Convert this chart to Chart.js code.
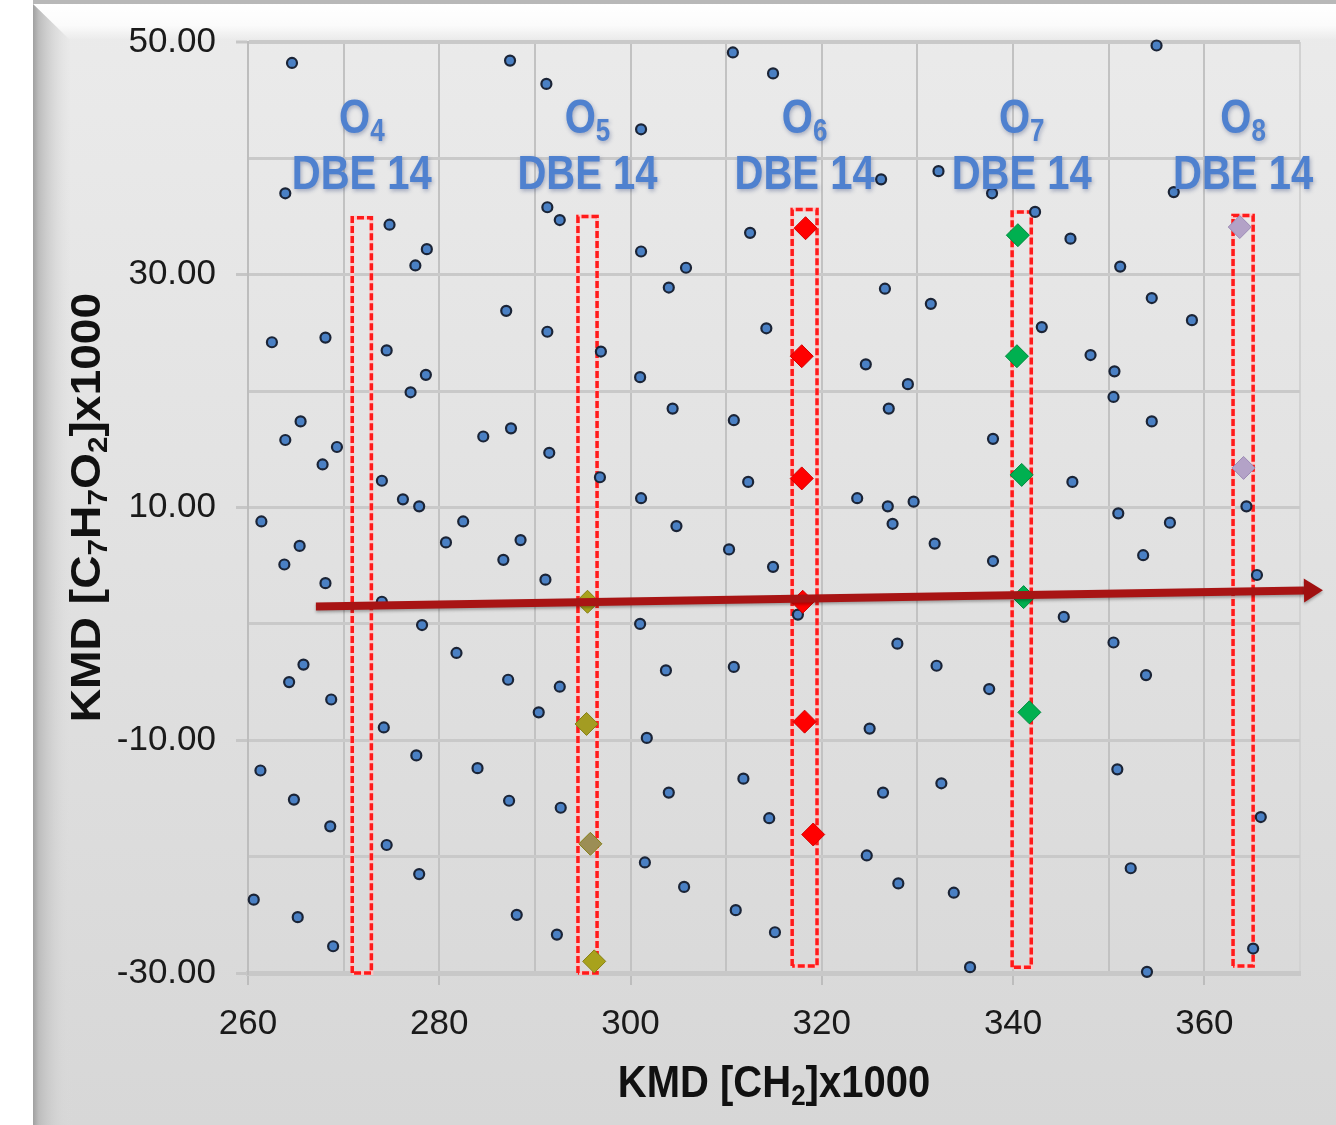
<!DOCTYPE html>
<html>
<head>
<meta charset="utf-8">
<script src="https://cdn.jsdelivr.net/npm/chart.js@4.4.1/dist/chart.umd.min.js"></script>
<style>
html, body { margin: 0; padding: 0; background: #fff; }
#wrap { width: 1336px; height: 1125px; }
</style>
</head>
<body>
<div id="wrap"><canvas id="kmdChart" width="1336" height="1125"></canvas></div>
<script>
// all compounds (blue dots)
var kmdX = [264.6, 263.9, 274.8, 278.7, 277.5, 262.5, 268.1, 274.5, 287.4, 291.2,
    310.7, 314.9, 301.1, 326.2, 291.3, 292.6, 312.5, 301.1, 305.8, 304.0,
    326.6, 287.0, 291.3, 314.2, 296.9, 355.0, 332.2, 337.8, 356.8, 342.3,
    346.0, 351.2, 331.4, 354.5, 358.7, 343.0, 348.1, 278.6, 277.0, 265.5,
    263.9, 269.3, 267.8, 274.0, 276.2, 277.9, 261.4, 280.7, 265.4, 263.8,
    268.1, 274.0, 278.2, 265.8, 264.3, 268.7, 301.0, 304.4, 310.8, 324.6,
    327.0, 284.6, 287.5, 291.5, 296.8, 301.1, 312.3, 323.7, 326.9, 327.4,
    282.5, 288.5, 286.7, 291.1, 304.8, 310.3, 314.9, 317.5, 301.0, 281.8,
    327.9, 287.2, 292.6, 303.7, 310.8, 350.6, 350.5, 354.5, 329.0, 337.9,
    346.2, 329.6, 351.0, 356.4, 364.4, 331.8, 337.9, 353.6, 365.5, 345.3,
    350.5, 332.0, 353.9, 337.5, 274.2, 277.6, 261.3, 264.8, 268.6, 274.5,
    277.9, 260.6, 265.2, 268.9, 290.4, 301.7, 284.0, 287.3, 292.7, 304.0,
    311.8, 314.5, 325.0, 326.4, 301.5, 305.6, 324.7, 328.0, 288.1, 292.3,
    311.0, 315.1, 332.5, 350.9, 365.9, 333.8, 352.3, 335.5, 354.0, 365.1];
var kmdY = [48.2, 37.0, 34.3, 32.2, 30.8, 24.2, 24.6, 23.5, 48.4, 46.4,
    49.1, 47.3, 42.5, 38.2, 35.8, 34.7, 33.6, 32.0, 30.6, 28.9,
    28.8, 26.9, 25.1, 25.4, 23.4, 49.7, 38.9, 37.0, 37.1, 35.4,
    33.1, 30.7, 27.5, 28.0, 26.1, 25.5, 23.1, 21.4, 19.9, 17.4,
    15.8, 15.2, 13.7, 12.3, 10.7, 10.1, 8.8, 7.0, 6.7, 5.1,
    3.5, 1.9, -0.1, -3.5, -5.0, -6.5, 21.2, 18.5, 17.5, 22.3,
    18.5, 16.1, 16.8, 14.7, 12.6, 10.8, 12.2, 10.8, 10.1, 8.6,
    8.8, 7.2, 5.5, 3.8, 8.4, 6.4, 4.9, 0.8, 0.0, -2.5,
    -1.7, -4.8, -5.4, -4.0, -3.7, 21.7, 19.5, 17.4, 20.6, 15.9,
    12.2, 10.5, 9.5, 8.7, 10.1, 6.9, 5.4, 5.9, 4.2, 0.6,
    -1.6, -3.6, -4.4, -5.6, -8.9, -11.3, -12.6, -15.1, -17.4, -19.0,
    -21.5, -23.7, -25.2, -27.7, -7.6, -9.8, -12.4, -15.2, -15.8, -14.5,
    -13.3, -16.7, -9.0, -14.5, -20.5, -22.6, -19.9, -22.3, -25.0, -26.7,
    -24.6, -26.5, -13.7, -12.5, -16.6, -23.1, -21.0, -29.5, -29.9, -27.9];

// DBE 14 members of each oxygen class
var o5X = [295.5, 295.4, 295.8, 296.2];
var o5Y = [1.9, -8.6, -18.9, -29.0];
var o5Colors = ['#a8a21c', '#a39c22', '#9c8e55', '#a8a21c'];
var o6X = [318.3, 317.9, 317.9, 318.0, 318.2, 319.1];
var o6Y = [34.0, 23.0, 12.5, 1.9, -8.4, -18.1];
var o7X = [340.5, 340.4, 340.9, 341.1, 341.7];
var o7Y = [33.4, 23.0, 12.8, 2.3, -7.6];
var o8X = [363.7, 364.1];
var o8Y = [34.1, 13.4];

// dashed boxes around the series
var boxLeft = [270.9, 294.5, 316.9, 339.9, 363.0];
var boxRight = [272.9, 296.5, 319.5, 341.9, 365.1];
var boxTop = [34.9, 35.0, 35.6, 35.4, 35.1];
var boxBottom = [-30.0, -30.0, -29.4, -29.5, -29.4];

var groupSubs = ['4', '5', '6', '7', '8'];
var groupText = 'DBE 14';
var labelY = [42.2, 37.4];

var arrowX = [267.1, 372.4];
var arrowY = [1.5, 2.9];

var xTitleParts = [['KMD [CH', 0], ['2', 1], [']x1000', 0]];
var yTitleParts = [['KMD [C', 0], ['7', 1], ['H', 0], ['7', 1], ['O', 0], ['2', 1], [']x1000', 0]];

var FONT = '"Liberation Sans", Arial, sans-serif';

function toPoints(xs, ys) {
    return xs.map(function (x, i) { return {x: x, y: ys[i]}; });
}

function boxPath(i) {
    return [
        {x: boxLeft[i], y: boxBottom[i]}, {x: boxLeft[i], y: boxTop[i]},
        {x: boxRight[i], y: boxTop[i]}, {x: boxRight[i], y: boxBottom[i]},
        {x: boxLeft[i], y: boxBottom[i]}
    ];
}

function drawParts(ctx, parts, x, y, size, subSize, subDrop) {
    var total = 0;
    var widths = parts.map(function (p) {
        ctx.font = 'bold ' + (p[1] ? subSize : size) + 'px ' + FONT;
        var w = ctx.measureText(p[0]).width;
        total += w;
        return w;
    });
    var cx = x - total / 2;
    parts.forEach(function (p, i) {
        ctx.font = 'bold ' + (p[1] ? subSize : size) + 'px ' + FONT;
        ctx.fillText(p[0], cx, y + (p[1] ? subDrop : 0));
        cx += widths[i];
    });
}

var frame = {
    id: 'frame',
    beforeDraw: function (chart) {
        var ctx = chart.ctx, w = chart.width, h = chart.height;
        ctx.save();
        ctx.fillStyle = '#ffffff';
        ctx.fillRect(0, 0, w, h);
        var g = ctx.createLinearGradient(0, 0, 0, h);
        g.addColorStop(0, '#ebebeb');
        g.addColorStop(1, '#d7d7d7');
        ctx.fillStyle = g;
        ctx.fillRect(33, 0, w - 33, h);
        ctx.fillStyle = '#b8b8b8';
        ctx.fillRect(33, 0, w - 33, 4);
        g = ctx.createLinearGradient(0, 4, 0, 40);
        g.addColorStop(0, 'rgba(255,255,255,1)');
        g.addColorStop(0.6, 'rgba(255,255,255,0.8)');
        g.addColorStop(1, 'rgba(255,255,255,0)');
        ctx.fillStyle = g;
        ctx.beginPath();
        ctx.moveTo(33, 4); ctx.lineTo(w, 4); ctx.lineTo(w, 40); ctx.lineTo(70, 40);
        ctx.closePath();
        ctx.fill();
        g = ctx.createLinearGradient(33, 0, 72, 0);
        g.addColorStop(0, '#a0a0a0');
        g.addColorStop(0.15, '#bdbdbd');
        g.addColorStop(1, 'rgba(222,222,222,0)');
        ctx.fillStyle = g;
        ctx.beginPath();
        ctx.moveTo(33, 4); ctx.lineTo(70, 40); ctx.lineTo(72, h); ctx.lineTo(33, h);
        ctx.closePath();
        ctx.fill();
        ctx.restore();
    },
    afterDatasetsDraw: function (chart) {
        var ctx = chart.ctx, xs = chart.scales.x, ys = chart.scales.y;
        var area = chart.chartArea;

        // trend arrow
        var x0 = xs.getPixelForValue(arrowX[0]), y0 = ys.getPixelForValue(arrowY[0]);
        var x1 = xs.getPixelForValue(arrowX[1]), y1 = ys.getPixelForValue(arrowY[1]);
        var ang = Math.atan2(y1 - y0, x1 - x0);
        var headLen = 19, headHalf = 12;
        ctx.save();
        ctx.shadowColor = 'rgba(0,0,0,0.3)';
        ctx.shadowBlur = 3;
        ctx.shadowOffsetY = 2;
        ctx.strokeStyle = '#a81414';
        ctx.lineWidth = 8;
        ctx.beginPath();
        ctx.moveTo(x0, y0);
        ctx.lineTo(x1 - headLen * Math.cos(ang), y1 - headLen * Math.sin(ang));
        ctx.stroke();
        ctx.fillStyle = '#a01010';
        ctx.beginPath();
        ctx.moveTo(x1, y1);
        ctx.lineTo(x1 - headLen * Math.cos(ang) + headHalf * Math.sin(ang), y1 - headLen * Math.sin(ang) - headHalf * Math.cos(ang));
        ctx.lineTo(x1 - headLen * Math.cos(ang) - headHalf * Math.sin(ang), y1 - headLen * Math.sin(ang) + headHalf * Math.cos(ang));
        ctx.closePath();
        ctx.fill();
        ctx.restore();

        // O_n / DBE 14 labels
        ctx.save();
        ctx.textAlign = 'left';
        ctx.textBaseline = 'alphabetic';
        ctx.fillStyle = '#4f81cf';
        ctx.shadowColor = 'rgba(30,50,110,0.35)';
        ctx.shadowBlur = 4;
        ctx.shadowOffsetX = 1;
        ctx.shadowOffsetY = 2;
        for (var i = 0; i < groupSubs.length; i++) {
            var cx = xs.getPixelForValue((boxLeft[i] + boxRight[i]) / 2);
            ctx.save();
            ctx.translate(cx, ys.getPixelForValue(labelY[0]));
            ctx.scale(1, 1.2);
            drawParts(ctx, [['O', 0], [groupSubs[i], 1]], 0, 0, 40, 26, 7);
            ctx.restore();
            ctx.save();
            ctx.translate(cx, ys.getPixelForValue(labelY[1]));
            ctx.scale(1, 1.2);
            drawParts(ctx, [[groupText, 0]], 0, 0, 40, 26, 7);
            ctx.restore();
        }
        ctx.restore();

        // axis titles
        ctx.save();
        ctx.fillStyle = '#111111';
        ctx.textAlign = 'left';
        ctx.textBaseline = 'alphabetic';
        ctx.save();
        ctx.translate((area.left + area.right) / 2, 1097);
        ctx.scale(1, 1.12);
        drawParts(ctx, xTitleParts, 0, 0, 40, 26, 7);
        ctx.restore();
        ctx.save();
        ctx.translate(100, (area.top + area.bottom) / 2);
        ctx.rotate(-Math.PI / 2);
        ctx.scale(1.1, 1);
        drawParts(ctx, yTitleParts, 0, 0, 42, 27, 7);
        ctx.restore();
        ctx.restore();
    }
};

var datasets = [];
for (var i = 0; i < boxLeft.length; i++) {
    datasets.push({
        data: boxPath(i), showLine: true, fill: false, pointRadius: 0,
        borderColor: 'rgba(255,196,196,0.9)', borderWidth: 4, clip: false, order: 10
    });
    datasets.push({
        data: boxPath(i), showLine: true, fill: false, pointRadius: 0,
        borderColor: '#ff1a1a', borderWidth: 3.5, borderDash: [7, 3], clip: false, order: 9
    });
}
datasets.push({
    data: toPoints(kmdX, kmdY), pointRadius: 5, pointBackgroundColor: '#4a80c4',
    pointBorderColor: '#1b2436', pointBorderWidth: 2.2, clip: false, order: 5
});
datasets.push({
    data: toPoints(o5X, o5Y), pointStyle: 'rectRot', pointRadius: 11.5,
    pointBackgroundColor: o5Colors, pointBorderColor: '#857f14', pointBorderWidth: 1, clip: false, order: 4
});
datasets.push({
    data: toPoints(o6X, o6Y), pointStyle: 'rectRot', pointRadius: 11.5,
    pointBackgroundColor: '#ff0000', pointBorderColor: '#d40000', pointBorderWidth: 1, clip: false, order: 3
});
datasets.push({
    data: toPoints(o7X, o7Y), pointStyle: 'rectRot', pointRadius: 11.5,
    pointBackgroundColor: '#00b050', pointBorderColor: '#008a3e', pointBorderWidth: 1, clip: false, order: 2
});
datasets.push({
    data: toPoints(o8X, o8Y), pointStyle: 'rectRot', pointRadius: 11.5,
    pointBackgroundColor: '#b3a2c7', pointBorderColor: '#9c8ab5', pointBorderWidth: 1, clip: false, order: 1
});

Chart.defaults.font.family = FONT;

var kmdChart = new Chart(document.getElementById('kmdChart'), {
    type: 'scatter',
    data: {datasets: datasets},
    options: {
        responsive: false,
        animation: false,
        events: [],
        layout: {padding: {top: 42, right: 36, left: 0, bottom: 0}},
        plugins: {legend: {display: false}, tooltip: {enabled: false}},
        scales: {
            x: {
                type: 'linear', min: 260, max: 370,
                afterFit: function (s) { s.height = 152; },
                ticks: {
                    stepSize: 10, autoSkip: false, maxRotation: 0, padding: 18,
                    color: '#1a1a1a', font: {size: 35},
                    callback: function (v) {
                        v = Math.round(v);
                        return ((v - 260) % 20 === 0 && v < 370) ? String(v) : '';
                    }
                },
                grid: {
                    color: function (c) { return c.tick && Math.round(c.tick.value) === 370 ? '#d2d2d2' : '#c2c2c2'; },
                    lineWidth: 2, tickLength: 12, tickWidth: 2,
                    tickColor: function (c) {
                        var v = c.tick ? Math.round(c.tick.value) : 0;
                        return ((v - 260) % 20 === 0 && v < 370) ? '#bdbdbd' : 'rgba(0,0,0,0)';
                    }
                },
                border: {color: '#c8c8c8', width: 5}
            },
            y: {
                type: 'linear', min: -30, max: 50,
                afterFit: function (s) { s.width = 248; },
                ticks: {
                    stepSize: 10, padding: 20, color: '#1a1a1a', font: {size: 35},
                    callback: function (v) {
                        v = Math.round(v);
                        return ((v + 30) % 20 === 0) ? v.toFixed(2) : '';
                    }
                },
                grid: {
                    color: '#c9c9c9',
                    lineWidth: function (c) { return c.tick && Math.round(c.tick.value) === 50 ? 4 : 3; },
                    tickLength: 12, tickWidth: 3,
                    tickColor: function (c) {
                        var v = c.tick ? Math.round(c.tick.value) : 0;
                        return ((v + 30) % 20 === 0) ? '#c6c6c6' : 'rgba(0,0,0,0)';
                    }
                },
                border: {color: '#bdbdbd', width: 2}
            }
        }
    },
    plugins: [frame]
});
</script>
</body>
</html>
